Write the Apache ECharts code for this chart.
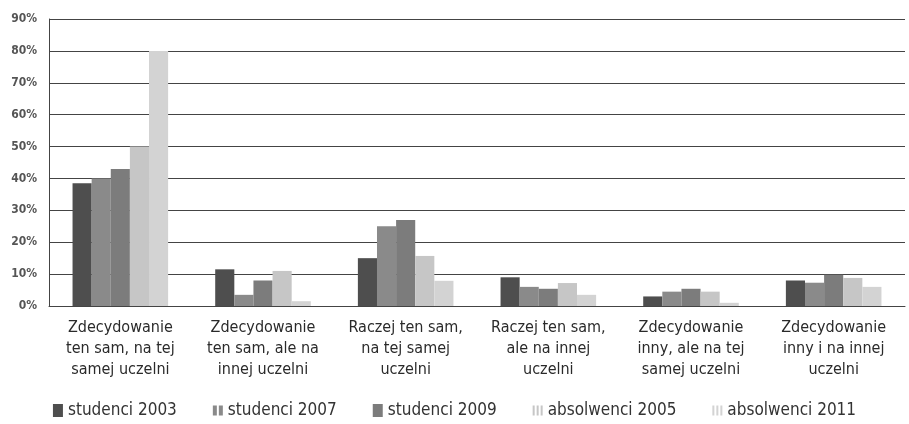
<!DOCTYPE html>
<html>
<head>
<meta charset="utf-8">
<script src="https://cdn.jsdelivr.net/npm/echarts@6/dist/echarts.min.js"></script>
<style>
html,body{margin:0;padding:0;background:#fff;}
#chart{width:909px;height:424px;}
</style>
</head>
<body>
<div id="chart"></div>
<script>
const categories = [
  "Zdecydowanie\nten sam, na tej\nsamej uczelni",
  "Zdecydowanie\nten sam, ale na\ninnej uczelni",
  "Raczej ten sam,\nna tej samej\nuczelni",
  "Raczej ten sam,\nale na innej\nuczelni",
  "Zdecydowanie\ninny, ale na tej\nsamej uczelni",
  "Zdecydowanie\ninny i na innej\nuczelni"
];
const seriesNames = ["studenci 2003", "studenci 2007", "studenci 2009", "absolwenci 2005", "absolwenci 2011"];
const studenci2003 = [38.5, 11.5, 15, 9, 3, 8];
const studenci2007 = [40, 3.5, 25, 6, 4.5, 7.3];
const studenci2009 = [43, 8, 27, 5.4, 5.4, 9.8];
const absolwenci2005 = [50, 11, 15.7, 7.2, 4.5, 8.8];
const absolwenci2011 = [80, 1.5, 7.9, 3.5, 1, 6];
const yTicks = [0, 10, 20, 30, 40, 50, 60, 70, 80, 90];

const seriesData = [studenci2003, studenci2007, studenci2009, absolwenci2005, absolwenci2011];
const colors = ["#4e4e4e", "#8a8a8a", "#7c7c7c", "#c6c6c6", "#d3d3d3"];
const icons = [
  "rect",
  "path://M0,0h4v10h-4z M6,0h4v10h-4z",
  "rect",
  "path://M0,0h2v10h-2z M4,0h2v10h-2z M8,0h2v10h-2z",
  "path://M0,0h2v10h-2z M4,0h2v10h-2z M8,0h2v10h-2z"
];
const font = "'Liberation Sans Narrow', 'DejaVu Sans Condensed', 'Liberation Sans', sans-serif";

const chart = echarts.init(document.getElementById('chart'), null, {renderer: 'canvas'});
chart.setOption({
  animation: false,
  backgroundColor: '#fff',
  grid: {left: 49, right: 4, top: 19, bottom: 118},
  legend: {
    bottom: 0,
    left: 'center',
    itemWidth: 10,
    itemHeight: 13,
    itemGap: 36,
    textStyle: {fontFamily: font, fontSize: 17, color: '#333'},
    data: seriesNames.map((n, i) => ({name: n, icon: icons[i]}))
  },
  xAxis: {
    type: 'category',
    data: categories,
    axisLine: {show: true, lineStyle: {color: '#444', width: 1}},
    axisTick: {show: false},
    axisLabel: {
      interval: 0,
      fontFamily: font,
      fontSize: 16,
      lineHeight: 21,
      color: '#2a2a2a',
      margin: 11
    }
  },
  yAxis: {
    type: 'value',
    min: yTicks[0],
    max: yTicks[yTicks.length - 1],
    interval: 10,
    axisLine: {show: true, lineStyle: {color: '#444', width: 1}},
    axisTick: {show: false},
    splitLine: {lineStyle: {color: '#444', width: 1}},
    axisLabel: {
      formatter: '{value}%',
      fontFamily: font,
      fontWeight: 'bold',
      fontSize: 12,
      color: '#555',
      margin: 12
    }
  },
  series: seriesNames.map((n, i) => ({
    name: n,
    type: 'bar',
    data: seriesData[i],
    barGap: '0%',
    barCategoryGap: '33%',
    itemStyle: {color: colors[i]}
  }))
});
</script>
</body>
</html>
